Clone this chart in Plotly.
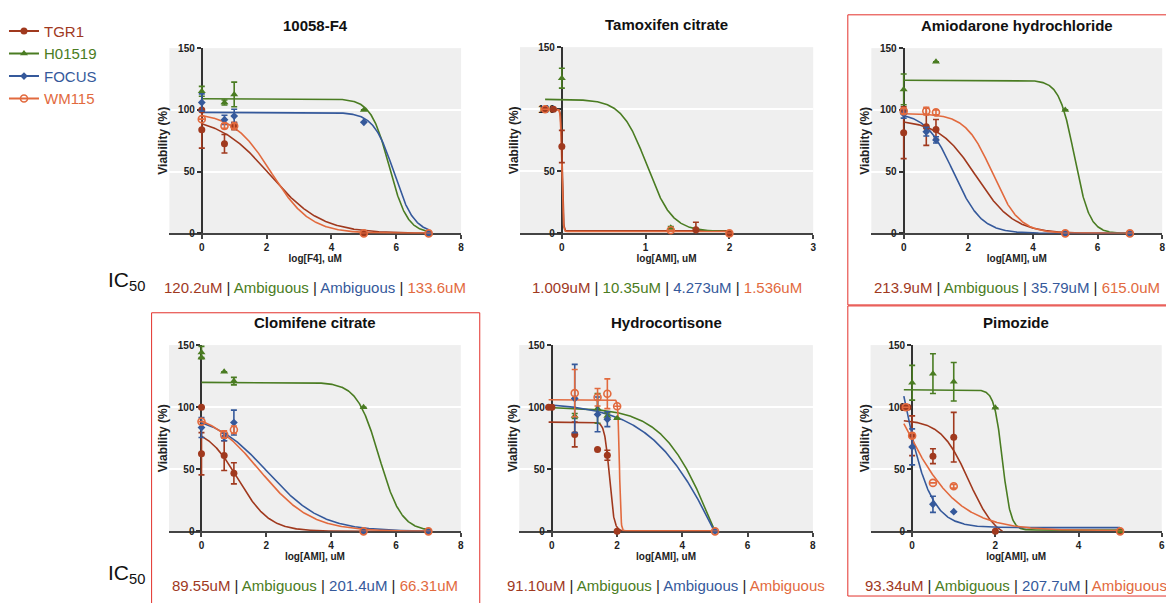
import numpy as np
import plotly.graph_objects as go

W, H = 1166, 603
FONT = "Liberation Sans, Arial, sans-serif"

SERIES = ["TGR1", "H01519", "FOCUS", "WM115"]
COLORS = {"TGR1": "#a0391e", "H01519": "#4a7c22", "FOCUS": "#35599b", "WM115": "#e26a3e"}
SYMBOLS = {"TGR1": "circle", "H01519": "triangle-up", "FOCUS": "diamond", "WM115": "circle-open"}
SIZES = {"TGR1": 7, "H01519": 7, "FOCUS": 6, "WM115": 7}

# Each measurement: (log concentration, viability %, error)
# Each fit: (top, bottom, logIC50, hill slope)

# ---- 10058-F4 ----
f4_tgr1 = [(0, 100, 0), (0, 84, 15), (0.7, 72.6, 7.5), (1, 87, 3), (5, 0, 0), (7, 0, 0)]
f4_h01519 = [(0, 115, 4), (0.7, 106, 2), (1, 112.5, 10), (5, 100, 0), (7, 0, 0)]
f4_focus = [(0, 106, 7), (0.7, 92, 3.7), (1, 95, 5.5), (5, 90, 0), (7, 0, 0)]
f4_wm115 = [(0, 92.5, 0), (0.7, 87, 2), (1, 87, 2), (5, 0, 0), (7, 0, 0)]
f4_fit = {"TGR1": (95, 0, 2.1, 0.55), "H01519": (109, 0, 5.78, 1.55),
          "FOCUS": (98, 0, 5.93, 1.4), "WM115": (98, 0, 2.15, 0.73)}
f4_ic50 = ["120.2uM", "Ambiguous", "Ambiguous", "133.6uM"]

# ---- Tamoxifen citrate ----
tam_tgr1 = [(-0.2, 100, 0), (-0.1, 100, 0), (0, 70, 13), (1.6, 3, 6), (2, 0, 0)]
tam_h01519 = [(0, 125, 8), (1.3, 4.5, 1)]
tam_focus = []
tam_wm115 = [(-0.2, 100, 0), (1.3, 2.5, 0), (2, 0, 0)]
tam_fit = {"TGR1": (100, 2, 0.004, 60), "H01519": (108, 1.5, 1.015, 2.9),
           "FOCUS": None, "WM115": (100, 1.5, 0.0, 60)}
tam_ic50 = ["1.009uM", "10.35uM", "4.273uM", "1.536uM"]

# ---- Amiodarone hydrochloride ----
ami_tgr1 = [(0, 100, 0), (0, 81.5, 21), (0.7, 86.3, 15), (1, 84.2, 8), (5, 0, 0), (7, 0, 0)]
ami_h01519 = [(0, 116.6, 12.5), (1, 139, 0), (5, 100, 0), (7, 0, 0)]
ami_focus = [(0, 96.8, 3.5), (0.7, 82.3, 3.5), (1, 75.7, 2.5), (5, 0, 0), (7, 0, 0)]
ami_wm115 = [(0, 99, 2), (0.7, 99, 3), (1, 98, 2), (5, 0, 0), (7, 0, 0)]
ami_fit = {"TGR1": (92, 0, 2.25, 0.75), "H01519": (124, 0, 5.285, 1.86),
           "FOCUS": (98, 0, 1.55, 1.01), "WM115": (97, 0, 2.75, 1.05)}
ami_ic50 = ["213.9uM", "Ambiguous", "35.79uM", "615.0uM"]

# ---- Clomifene citrate ----
clo_tgr1 = [(0, 100, 0), (0, 62.5, 17), (0.7, 61, 12), (1, 46.7, 8.5), (5, 0, 0), (7, 0, 0)]
clo_h01519 = [(0, 144, 5), (0, 140, 0), (0.7, 128.5, 0), (1, 121, 3), (5, 100, 0), (7, 0, 0)]
clo_focus = [(0, 83.6, 8), (0.7, 76, 3), (1, 87.6, 10), (5, 0, 0), (7, 0, 0)]
clo_wm115 = [(0, 88.4, 0), (0.7, 78, 3), (1, 81.8, 3), (5, 0, 0), (7, 0, 0)]
clo_fit = {"TGR1": (84, 0, 1.13, 0.9), "H01519": (120, 0, 5.48, 1.28),
           "FOCUS": (95, 0, 2.05, 0.52), "WM115": (98, 0, 1.8, 0.55)}
clo_ic50 = ["89.55uM", "Ambiguous", "201.4uM", "66.31uM"]

# ---- Hydrocortisone ----
hyd_tgr1 = [(-0.1, 100, 0), (0, 100, 0), (0.7, 78, 10), (1.4, 66, 0), (1.7, 61.3, 4), (2, 0, 0)]
hyd_h01519 = [(0.7, 92.9, 2), (1.4, 99, 12), (1.7, 92.9, 2.5), (2, 91, 0), (5, 0, 0)]
hyd_focus = [(0.7, 107, 27.5), (1.4, 94.2, 14), (1.7, 90.3, 6), (5, 0, 0)]
hyd_wm115 = [(0.7, 111.3, 19), (1.4, 108, 7), (1.7, 110.8, 12), (2, 100.8, 0), (5, 0, 0)]
hyd_fit = {"TGR1": (88, 0, 1.76, 6), "H01519": (100, -100, 5.0, 0.55),
           "FOCUS": (104, -150, 5.4, 0.38), "WM115": (106, 0.5, 2.07, 20)}
hyd_ic50 = ["91.10uM", "Ambiguous", "Ambiguous", "Ambiguous"]

# ---- Pimozide ----
pim_tgr1 = [(-0.2, 100, 0), (-0.1, 100, 0), (0, 77, 16), (0.5, 60.5, 6), (1, 75.8, 20), (2, 0, 0), (5, 0, 0)]
pim_h01519 = [(0, 119.7, 14), (0.5, 127, 16), (1, 120.5, 15.5), (2, 99.5, 0), (5, 0, 0)]
pim_focus = [(0, 68, 14.5), (0.5, 21.8, 6.5), (1, 15.8, 0)]
pim_wm115 = [(-0.15, 100, 0), (0, 77, 2), (0.5, 39, 0), (1, 36.3, 1.5), (5, 0, 0)]
pim_fit = {"TGR1": (90, -8, 1.36, 1.3), "H01519": (114, 1, 2.17, 4.4),
           "FOCUS": (250, 3, -0.30, 1.25), "WM115": (200.5, 0.5, -0.4, 0.6)}
pim_ic50 = ["93.34uM", "Ambiguous", "207.7uM", "Ambiguous"]

PANELS = [
    dict(title="10058-F4", xtitle="log[F4], uM", xrange=[-1, 8], dtick=2, span=(0, 7),
         data=[f4_tgr1, f4_h01519, f4_focus, f4_wm115], fit=f4_fit, ic50=f4_ic50,
         box=(169.8, 462.3, 43, 232)),
    dict(title="Tamoxifen citrate", xtitle="log[AMI], uM", xrange=[-0.5, 3], dtick=1, span=(-0.2, 2),
         data=[tam_tgr1, tam_h01519, tam_focus, tam_wm115], fit=tam_fit, ic50=tam_ic50,
         box=(521.3, 815.3, 42, 232)),
    dict(title="Amiodarone hydrochloride", xtitle="log[AMI], uM", xrange=[-1, 8], dtick=2, span=(0, 7),
         data=[ami_tgr1, ami_h01519, ami_focus, ami_wm115], fit=ami_fit, ic50=ami_ic50,
         box=(873.6, 1165.2, 43, 232)),
    dict(title="Clomifene citrate", xtitle="log[AMI], uM", xrange=[-1, 8], dtick=2, span=(0, 7),
         data=[clo_tgr1, clo_h01519, clo_focus, clo_wm115], fit=clo_fit, ic50=clo_ic50,
         box=(169.5, 462.0, 346, 536)),
    dict(title="Hydrocortisone", xtitle="log[AMI], uM", xrange=[-1, 8], dtick=2, span=(-0.1, 5),
         data=[hyd_tgr1, hyd_h01519, hyd_focus, hyd_wm115], fit=hyd_fit, ic50=hyd_ic50,
         box=(520.6, 815.0, 346, 536)),
    dict(title="Pimozide", xtitle="log[AMI], uM", xrange=[-1, 6], dtick=2, span=(-0.2, 5),
         data=[pim_tgr1, pim_h01519, pim_focus, pim_wm115], fit=pim_fit, ic50=pim_ic50,
         box=(872.8, 1164.7, 346, 536)),
]


def four_pl(x, top, bottom, logec50, hill):
    """Four-parameter dose-response curve (log concentration on x)."""
    return bottom + (top - bottom) / (1.0 + 10.0 ** (hill * (x - logec50)))


fig = go.Figure()
layout = dict(
    width=W, height=H, margin=dict(l=0, r=0, t=0, b=0),
    paper_bgcolor="white", plot_bgcolor="#efefef",
    font=dict(family=FONT, color="#222"),
    showlegend=True,
    legend=dict(x=4 / W, y=1 - 9 / H, xanchor="left", yanchor="top",
                font=dict(size=15, family=FONT), bgcolor="rgba(0,0,0,0)",
                tracegroupgap=0),
)

annotations = []
tick_font = dict(family=FONT, size=10, color="#222", weight="bold")
xtitle_font = dict(family=FONT, size=10, color="#222", weight="bold")
ytitle_font = dict(family=FONT, size=12, color="#222", weight="bold")

for i, p in enumerate(PANELS, start=1):
    left, right, top, bottom = p["box"]
    r0, r1 = p["xrange"]
    axis_px = left + (0 - r0) / (r1 - r0) * (right - left)
    xa, ya = f"x{i}", f"y{i}"

    layout[f"xaxis{i}"] = dict(
        domain=[left / W, min(right / W, 1.0)], range=p["xrange"], anchor=ya,
        tick0=0, dtick=p["dtick"], showgrid=False, zeroline=False,
        showline=True, linecolor="#444", linewidth=2,
        ticks="outside", ticklen=4, tickwidth=1.5, tickcolor="#444",
        tickfont=tick_font, layer="below traces",
        title=dict(text=p["xtitle"], font=xtitle_font, standoff=2),
    )
    layout[f"yaxis{i}"] = dict(
        domain=[1 - bottom / H, 1 - top / H], range=[0, 150], anchor="free",
        position=axis_px / W, tickvals=[0, 50, 100, 150],
        showgrid=True, gridcolor="white", gridwidth=1.5, zeroline=False,
        showline=True, linecolor="#333", linewidth=2,
        ticks="outside", ticklen=4, tickwidth=1.5, tickcolor="#333",
        tickfont=tick_font, layer="below traces",
        title=dict(text="Viability (%)", font=ytitle_font,
                   standoff=max(axis_px - left - 26, 0)),
    )

    # fitted curves
    for s in SERIES:
        par = p["fit"][s]
        if par is None:
            continue
        xs = np.linspace(p["span"][0], p["span"][1], 600)
        fig.add_trace(go.Scatter(
            x=xs, y=four_pl(xs, *par), mode="lines", xaxis=xa, yaxis=ya,
            line=dict(color=COLORS[s], width=1.6), showlegend=False, hoverinfo="skip"))

    # measured points with error bars
    for s, pts in zip(SERIES, p["data"]):
        if not pts:
            continue
        xs = [q[0] for q in pts]
        ys = [q[1] for q in pts]
        es = [q[2] if q[2] > 0 else None for q in pts]
        marker = dict(symbol=SYMBOLS[s], size=SIZES[s], color=COLORS[s])
        if SYMBOLS[s].endswith("open"):
            marker["line"] = dict(width=1.6, color=COLORS[s])
        fig.add_trace(go.Scatter(
            x=xs, y=ys, mode="markers", xaxis=xa, yaxis=ya, marker=marker,
            error_y=dict(type="data", array=es, visible=True, color=COLORS[s],
                         thickness=1.6, width=3),
            cliponaxis=False, showlegend=False))

    # panel title
    cx = (left + right) / 2
    annotations.append(dict(
        x=cx / W, y=1 - (top - 23) / H, xref="paper", yref="paper",
        text=f"<b>{p['title']}</b>", showarrow=False, xanchor="center", yanchor="middle",
        font=dict(family=FONT, size=15, color="#111")))

    # IC50 summary line
    parts = [f"<span style='color:{COLORS[s]}'>{v}</span>" for s, v in zip(SERIES, p["ic50"])]
    annotations.append(dict(
        x=cx / W, y=1 - (bottom + 55) / H, xref="paper", yref="paper",
        text=" | ".join(parts), showarrow=False, xanchor="center", yanchor="middle",
        font=dict(family=FONT, size=15, color="#222")))

# IC50 row labels
for yrow in (281, 580):
    annotations.append(dict(
        x=106 / W, y=1 - yrow / H, xref="paper", yref="paper",
        text="IC<sub>50</sub>", showarrow=False, xanchor="left", yanchor="middle",
        font=dict(family=FONT, size=21, color="#111")))

layout["annotations"] = annotations

# highlight frames
RED = "#e3312b"
layout["shapes"] = [
    dict(type="rect", xref="paper", yref="paper", x0=850 / W, x1=1.02,
         y0=1 - 305 / H, y1=1 - 9 / H, line=dict(color=RED, width=1)),
    dict(type="rect", xref="paper", yref="paper", x0=152 / W, x1=481 / W,
         y0=-0.02, y1=1 - 313 / H, line=dict(color=RED, width=1)),
    dict(type="rect", xref="paper", yref="paper", x0=850 / W, x1=1.02,
         y0=1 - 602 / H, y1=1 - 306 / H, line=dict(color=RED, width=1)),
]

# legend entries
for s in SERIES:
    marker = dict(symbol=SYMBOLS[s], size=SIZES[s], color=COLORS[s])
    if SYMBOLS[s].endswith("open"):
        marker["line"] = dict(width=1.6, color=COLORS[s])
    fig.add_trace(go.Scatter(
        x=[None], y=[None], mode="lines+markers", xaxis="x1", yaxis="y1",
        name=f"<span style='color:{COLORS[s]}'>{s}</span>", legendgroup=s,
        line=dict(color=COLORS[s], width=2), marker=marker, showlegend=True))

fig.update_layout(**layout)
fig.write_html("out.html")
